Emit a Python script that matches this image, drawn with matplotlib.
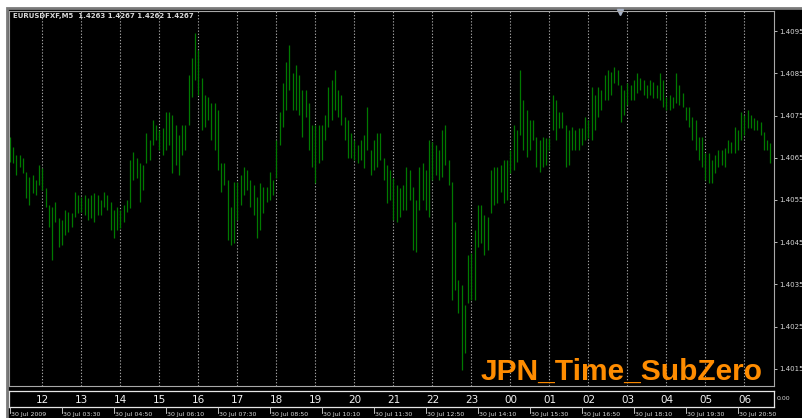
import matplotlib.pyplot as plt
from matplotlib.patches import Rectangle

W, H = 802, 418  # размер картинки, px

TITLE = "EURUSDFXF,M5  1.4263 1.4267 1.4262 1.4267"
BARS_PER_HOUR = 12  # M5
BARS_PER_DATE = 16  # подпись времени каждые 80 минут

# максимумы баров M5
HIGH = [
    1.40700, 1.40676, 1.40657, 1.40657, 1.40650, 1.40616, 1.40605, 1.40609, 1.40598, 1.40633,
    1.40626, 1.40579, 1.40538, 1.40534, 1.40545, 1.40508, 1.40503, 1.40527, 1.40522, 1.40519,
    1.40569, 1.40562, 1.40557, 1.40562, 1.40555, 1.40562, 1.40567, 1.40562, 1.40550, 1.40569,
    1.40562, 1.40545, 1.40527, 1.40534, 1.40527, 1.40538, 1.40550, 1.40645, 1.40664, 1.40650,
    1.40638, 1.40633, 1.40709, 1.40692, 1.40740, 1.40728, 1.40716, 1.40721, 1.40759, 1.40759,
    1.40752, 1.40728, 1.40704, 1.40728, 1.40728, 1.40846, 1.40887, 1.40946, 1.40906, 1.40839,
    1.40799, 1.40794, 1.40780, 1.40780, 1.40764, 1.40638, 1.40638, 1.40598, 1.40534, 1.40593,
    1.40593, 1.40609, 1.40628, 1.40621, 1.40598, 1.40586, 1.40557, 1.40591, 1.40581, 1.40581,
    1.40616, 1.40598, 1.40692, 1.40759, 1.40827, 1.40877, 1.40918, 1.40851, 1.40870, 1.40846,
    1.40811, 1.40811, 1.40780, 1.40728, 1.40728, 1.40728, 1.40728, 1.40752, 1.40818, 1.40835,
    1.40858, 1.40811, 1.40799, 1.40747, 1.40740, 1.40709, 1.40692, 1.40681, 1.40692, 1.40704,
    1.40771, 1.40669, 1.40692, 1.40709, 1.40709, 1.40650, 1.40633, 1.40621, 1.40602, 1.40586,
    1.40579, 1.40586, 1.40628, 1.40621, 1.40581, 1.40550, 1.40628, 1.40638, 1.40621, 1.40692,
    1.40688, 1.40681, 1.40669, 1.40716, 1.40728, 1.40645, 1.40593, 1.40498, 1.40361, 1.40349,
    1.40302, 1.40420, 1.40425, 1.40479, 1.40538, 1.40538, 1.40515, 1.40510, 1.40621, 1.40628,
    1.40628, 1.40633, 1.40645, 1.40645, 1.40669, 1.40728, 1.40716, 1.40858, 1.40787, 1.40764,
    1.40740, 1.40740, 1.40700, 1.40692, 1.40700, 1.40697, 1.40697, 1.40799, 1.40787, 1.40759,
    1.40759, 1.40728, 1.40716, 1.40723, 1.40716, 1.40721, 1.40721, 1.40747, 1.40740, 1.40818,
    1.40799, 1.40818, 1.40811, 1.40846, 1.40858, 1.40854, 1.40865, 1.40858, 1.40823, 1.40811,
    1.40827, 1.40823, 1.40835, 1.40851, 1.40839, 1.40835, 1.40823, 1.40835, 1.40830, 1.40823,
    1.40851, 1.40835, 1.40794, 1.40799, 1.40794, 1.40851, 1.40823, 1.40804, 1.40771, 1.40771,
    1.40747, 1.40740, 1.40700, 1.40700, 1.40662, 1.40662, 1.40645, 1.40657, 1.40669, 1.40669,
    1.40674, 1.40692, 1.40688, 1.40723, 1.40716, 1.40759, 1.40752, 1.40764, 1.40752, 1.40745,
    1.40740, 1.40735, 1.40711, 1.40692, 1.40685,
]

# минимумы баров M5
LOW = [
    1.40640, 1.40638, 1.40609, 1.40628, 1.40614, 1.40555, 1.40538, 1.40567, 1.40562, 1.40586,
    1.40574, 1.40534, 1.40486, 1.40408, 1.40498, 1.40439, 1.40444, 1.40467, 1.40474, 1.40486,
    1.40510, 1.40519, 1.40522, 1.40515, 1.40503, 1.40508, 1.40498, 1.40515, 1.40515, 1.40534,
    1.40527, 1.40479, 1.40460, 1.40479, 1.40484, 1.40498, 1.40522, 1.40531, 1.40598, 1.40602,
    1.40545, 1.40574, 1.40638, 1.40645, 1.40681, 1.40692, 1.40669, 1.40657, 1.40669, 1.40681,
    1.40614, 1.40633, 1.40609, 1.40657, 1.40669, 1.40728, 1.40794, 1.40835, 1.40799, 1.40716,
    1.40723, 1.40740, 1.40692, 1.40669, 1.40621, 1.40569, 1.40586, 1.40455, 1.40444, 1.40448,
    1.40503, 1.40538, 1.40562, 1.40574, 1.40534, 1.40515, 1.40460, 1.40479, 1.40519, 1.40545,
    1.40550, 1.40562, 1.40602, 1.40681, 1.40723, 1.40764, 1.40811, 1.40764, 1.40764, 1.40752,
    1.40700, 1.40747, 1.40669, 1.40628, 1.40591, 1.40638, 1.40645, 1.40692, 1.40723, 1.40740,
    1.40764, 1.40747, 1.40728, 1.40692, 1.40650, 1.40650, 1.40645, 1.40638, 1.40645, 1.40626,
    1.40669, 1.40609, 1.40621, 1.40628, 1.40645, 1.40598, 1.40543, 1.40550, 1.40503, 1.40498,
    1.40510, 1.40527, 1.40527, 1.40550, 1.40432, 1.40427, 1.40527, 1.40550, 1.40527, 1.40510,
    1.40598, 1.40609, 1.40598, 1.40605, 1.40633, 1.40586, 1.40314, 1.40337, 1.40283, 1.40148,
    1.40188, 1.40306, 1.40314, 1.40314, 1.40439, 1.40448, 1.40420, 1.40432, 1.40519, 1.40538,
    1.40543, 1.40569, 1.40543, 1.40550, 1.40614, 1.40621, 1.40640, 1.40704, 1.40669, 1.40652,
    1.40669, 1.40692, 1.40628, 1.40616, 1.40628, 1.40633, 1.40669, 1.40716, 1.40692, 1.40721,
    1.40721, 1.40628, 1.40633, 1.40669, 1.40669, 1.40669, 1.40681, 1.40692, 1.40697, 1.40692,
    1.40716, 1.40747, 1.40764, 1.40787, 1.40787, 1.40799, 1.40827, 1.40823, 1.40735, 1.40752,
    1.40775, 1.40787, 1.40787, 1.40804, 1.40811, 1.40799, 1.40792, 1.40799, 1.40792, 1.40792,
    1.40787, 1.40771, 1.40764, 1.40764, 1.40768, 1.40780, 1.40775, 1.40771, 1.40740, 1.40723,
    1.40692, 1.40669, 1.40645, 1.40628, 1.40598, 1.40591, 1.40591, 1.40614, 1.40628, 1.40633,
    1.40628, 1.40662, 1.40662, 1.40662, 1.40669, 1.40692, 1.40704, 1.40721, 1.40721, 1.40716,
    1.40716, 1.40704, 1.40669, 1.40669, 1.40638,
]

PRICE_TICKS = [1.4095, 1.4085, 1.4075, 1.4065, 1.4055, 1.4045, 1.4035, 1.4025, 1.4015]
JPN_HOURS = ["12", "13", "14", "15", "16", "17", "18", "19", "20", "21",
             "22", "23", "00", "01", "02", "03", "04", "05", "06"]
DATE_LABELS = ["30 Jul 2009", "30 Jul 03:30", "30 Jul 04:50", "30 Jul 06:10",
               "30 Jul 07:30", "30 Jul 08:50", "30 Jul 10:10", "30 Jul 11:30",
               "30 Jul 12:50", "30 Jul 14:10", "30 Jul 15:30", "30 Jul 16:50",
               "30 Jul 18:10", "30 Jul 19:30", "30 Jul 20:50"]

FG = "#d8d8d8"
BAR_COLOR = "#007a00"
SEP_COLOR = "#a0a0a0"


def box(left, top, width, height):
    # прямоугольник в пикселях -> доли фигуры
    return [left / W, 1 - (top + height) / H, width / W, height / H]


fig = plt.figure(figsize=(W / 100, H / 100), dpi=100, facecolor="white")
fig.add_artist(Rectangle((7 / W, -0.01), 1, 1 - 8 / H + 0.01, transform=fig.transFigure,
                         facecolor="black", edgecolor="#7a7a7a", lw=2, zorder=-10))

xlim = (-0.3, -0.3 + 765 / 3.25)
sep_idx = [10 + BARS_PER_HOUR * k for k in range(len(JPN_HOURS))]

# основное окно
ax = fig.add_axes(box(9, 11, 765, 375), facecolor="black")
idx = list(range(len(HIGH)))
ax.vlines(idx, LOW, HIGH, color=BAR_COLOR, lw=0.9)
for x in sep_idx:
    ax.axvline(x, color=SEP_COLOR, lw=0.8, ls=(0, (1.2, 1.6)), zorder=0)
ax.set_xlim(*xlim)
ax.set_ylim(1.40109, 1.40998)
ax.set_xticks([])
ax.yaxis.tick_right()
ax.set_yticks(PRICE_TICKS)
ax.set_yticklabels([f"{p:.4f}" for p in PRICE_TICKS])
ax.tick_params(axis="y", colors=FG, labelsize=5, length=2, width=0.6, pad=1.5)
for s in ax.spines.values():
    s.set_color("#a8a8a8")
    s.set_linewidth(0.8)
ax.text(0.005, 0.995, TITLE, transform=ax.transAxes, fontsize=5, color=FG,
        va="top", ha="left", fontweight="bold")
ax.plot([(620 - 9) / 765], [0.997], marker="v", ms=4.5, color="#a9b4c8",
        transform=ax.transAxes, clip_on=False)

# подокно индикатора с японским временем
strip = fig.add_axes(box(9, 391, 765, 16), facecolor="black")
strip.set_xlim(*xlim)
strip.set_ylim(0, 1)
strip.set_xticks([])
strip.set_yticks([])
for s in strip.spines.values():
    s.set_color("#e6e6e6")
    s.set_linewidth(0.9)
for x, lab in zip(sep_idx, JPN_HOURS):
    strip.text(x, 0.45, lab, ha="center", va="center", fontsize=7.5, color="#f0f0f0")
fig.text(777 / W, 1 - 399 / H, "0.00", fontsize=4.5, color=FG, va="center")

# шкала времени сервера
dates = fig.add_axes(box(9, 407, 765, 11))
dates.set_xlim(*xlim)
dates.set_ylim(0, 1)
dates.axis("off")
for k, lab in enumerate(DATE_LABELS):
    x = BARS_PER_DATE * k
    dates.plot([x, x], [1.0, 0.5], color=FG, lw=0.6)
    dates.text(x + 0.3, 0.28, lab, fontsize=4.5, color=FG, ha="left", va="center")

fig.text(481 / W, 1 - 380 / H, "JPN_Time_SubZero", fontsize=21.5, fontweight="bold",
         color="#ff8c00", family="Liberation Sans", va="baseline")

fig.savefig("out.png", dpi=100, facecolor="white")
